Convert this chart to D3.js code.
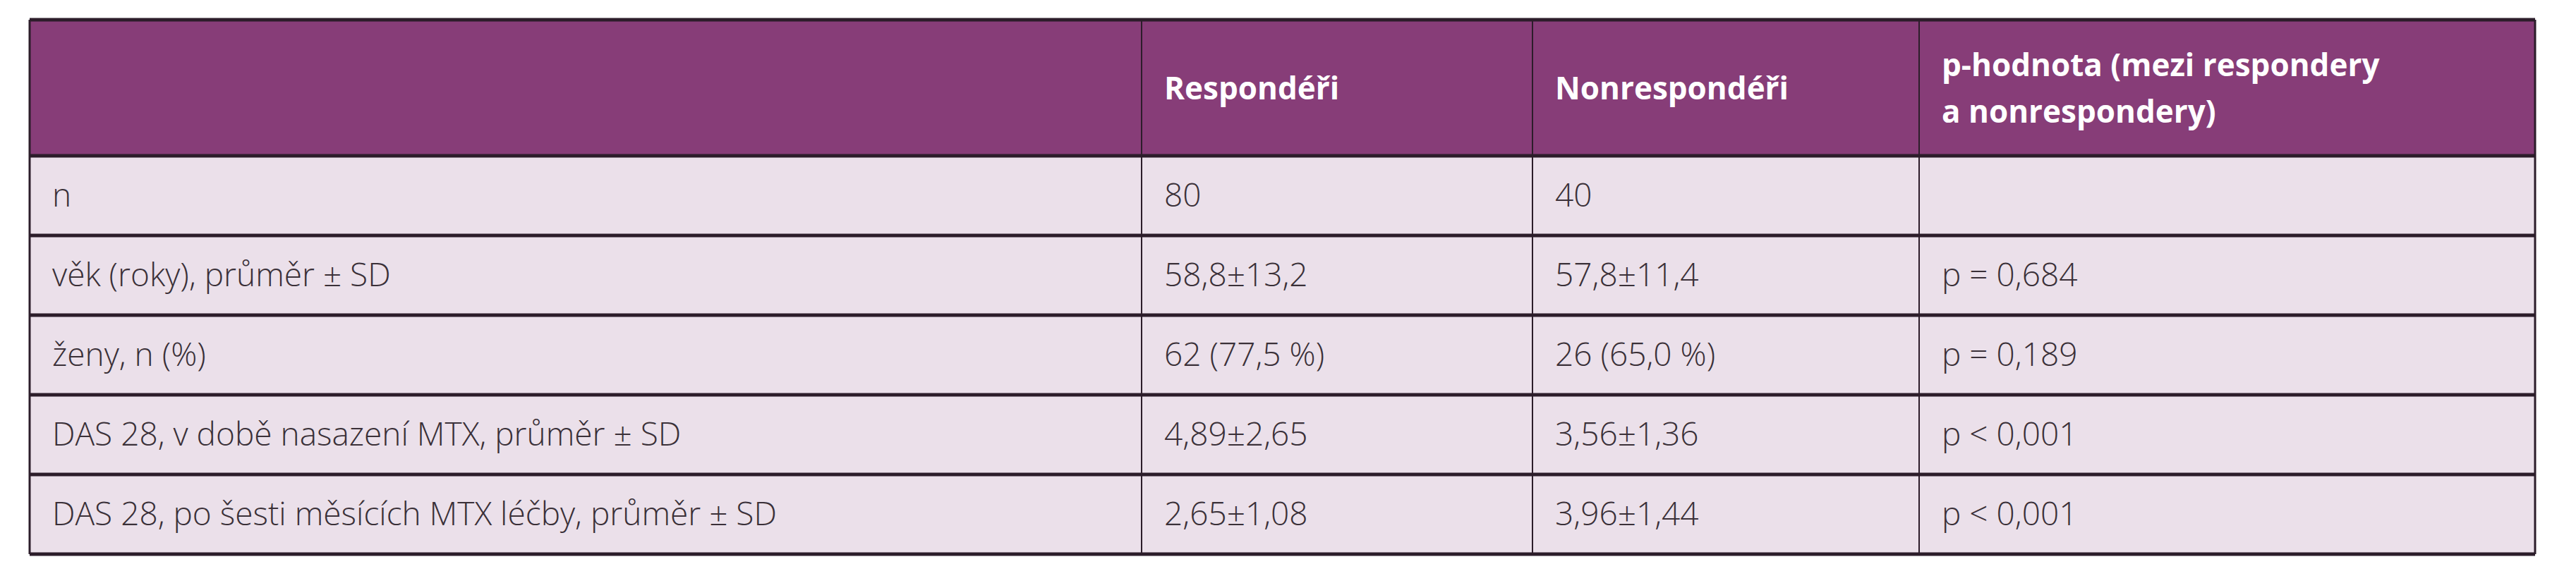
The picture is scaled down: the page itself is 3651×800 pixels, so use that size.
<!DOCTYPE html>
<html><head><meta charset="utf-8">
<script src="https://cdn.jsdelivr.net/npm/d3@7"></script>
<style>body{margin:0;background:#fff}</style></head>
<body><div id="chart"></div>
<script>
const headers = ["", "Respondéři", "Nonrespondéři", ["p-hodnota (mezi respondery", "a nonrespondery)"]];
const labels = ["n", "věk (roky), průměr ± SD", "ženy, n (%)", "DAS 28, v době nasazení MTX, průměr ± SD", "DAS 28, po šesti měsících MTX léčby, průměr ± SD"];
const responders = ["80", "58,8±13,2", "62 (77,5 %)", "4,89±2,65", "2,65±1,08"];
const nonresponders = ["40", "57,8±11,4", "26 (65,0 %)", "3,56±1,36", "3,96±1,44"];
const pValues = ["", "p = 0,684", "p = 0,189", "p < 0,001", "p < 0,001"];

const W = 3651, H = 800;
const colEdges = [42, 1618, 2172, 2720, 3593];
const topY = 28, headH = 193, rowH = 113;

const svg = d3.select("#chart").append("svg").attr("width", W).attr("height", H);

const y = d3.scaleBand().domain(d3.range(labels.length)).range([topY + headH, topY + headH + rowH * labels.length]);

svg.append("rect").attr("x", colEdges[0]).attr("y", topY).attr("width", colEdges[4] - colEdges[0])
  .attr("height", headH).attr("fill", "#873d78");
svg.append("rect").attr("x", colEdges[0]).attr("y", topY + headH).attr("width", colEdges[4] - colEdges[0])
  .attr("height", rowH * labels.length).attr("fill", "#ebe0ea");

// header text
headers.forEach((h, i) => {
  const lines = Array.isArray(h) ? h : [h];
  const t = svg.append("text").attr("x", colEdges[i] + 32).attr("fill", "#fff")
    .attr("font-family", "Open Sans, sans-serif").attr("font-weight", 700).attr("font-size", 44);
  lines.forEach((l, j) => {
    t.append("tspan").attr("x", colEdges[i] + 32)
      .attr("y", topY + headH / 2 + 16 + (j - (lines.length - 1) / 2) * 66).text(l);
  });
});

const cols = [labels, responders, nonresponders, pValues];
cols.forEach((col, ci) => {
  svg.selectAll(null).data(col).enter().append("text")
    .attr("x", colEdges[ci] + 32)
    .attr("y", (d, i) => y(i) + y.bandwidth() / 2 + 15)
    .attr("font-family", "Open Sans, sans-serif").attr("font-weight", 300).attr("font-size", 46)
    .attr("fill", "#3a3038").text(d => d);
});

// horizontal lines
const hLines = [topY, topY + headH].concat(d3.range(1, labels.length + 1).map(i => y(i - 1) + y.bandwidth()));
svg.selectAll(null).data(hLines).enter().append("line")
  .attr("x1", colEdges[0]).attr("x2", colEdges[4]).attr("y1", d => d).attr("y2", d => d)
  .attr("stroke", "#2c1d2a").attr("stroke-width", 5);
// vertical lines
svg.selectAll(null).data(colEdges).enter().append("line")
  .attr("x1", d => d).attr("x2", d => d).attr("y1", topY).attr("y2", topY + headH + rowH * labels.length)
  .attr("stroke", "#2c1d2a").attr("stroke-width", (d, i) => (i === 0 || i === 4) ? 3 : 2);
</script></body></html>
